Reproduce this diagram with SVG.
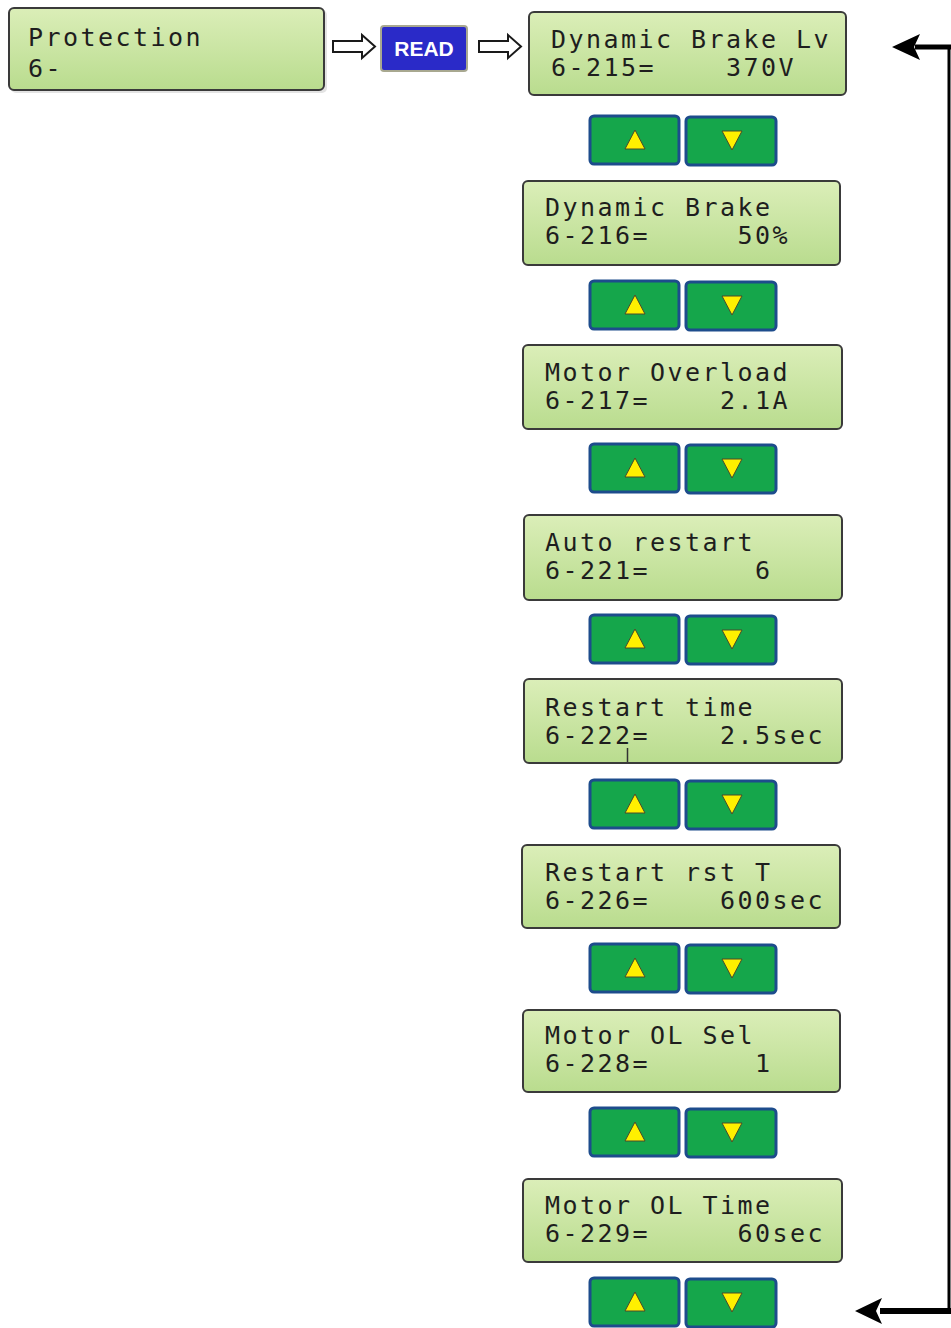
<svg xmlns="http://www.w3.org/2000/svg" xmlns:xlink="http://www.w3.org/1999/xlink" width="951" height="1328" viewBox="0 0 951 1328">
<style>
.lcd{fill:url(#lcdGrad);stroke:#3a3a3a;stroke-width:2}
.lcdshadow{fill:#c8c8c8;opacity:0.5}
.t{font-family:"DejaVu Sans Mono","Liberation Mono",monospace;font-size:25px;letter-spacing:2.45px;fill:#1e1e1e}
.btn{fill:#15a64b;stroke:#1d4c8c;stroke-width:3}
.tri{fill:#fff000;stroke:#4a4a2a;stroke-width:1}
.hollow{fill:#ffffff;stroke:#1a1a1a;stroke-width:2;stroke-linejoin:miter}
.conn{stroke:#000;fill:none}
</style>
<defs>
<linearGradient id="lcdGrad" x1="0" y1="0" x2="0" y2="1">
<stop offset="0" stop-color="#dbeeb8"/>
<stop offset="1" stop-color="#b9dc8e"/>
</linearGradient>
<g id="btnpair">
<rect class="btn" x="590" y="0" width="89" height="48" rx="4"/>
<polygon class="tri" points="635,14 625,33 645,33"/>
<rect class="btn" x="686" y="1" width="90" height="48" rx="4"/>
<polygon class="tri" points="722,15 742,15 732,34"/>
</g>
</defs>
<rect width="951" height="1328" fill="#ffffff"/>

<g id="protection">
<rect class="lcdshadow" x="11" y="10" width="316" height="83" rx="5"/>
<rect class="lcd" x="9" y="8" width="315" height="82" rx="5"/>
<text class="t" x="28" y="46">Protection</text>
<text class="t" x="28" y="77">6-</text>
</g>

<g id="read">
<rect x="381" y="26" width="86" height="45" rx="3" fill="#2a2ac8" stroke="#a8a890" stroke-width="2"/>
<text x="424" y="56" text-anchor="middle" font-family="Liberation Sans, Arial, sans-serif" font-weight="bold" font-size="21" fill="#ffffff">READ</text>
</g>

<g id="p215">
<rect class="lcd" x="529" y="12" width="317" height="83" rx="5"/>
<text class="t" x="551" y="48">Dynamic Brake Lv</text>
<text class="t" y="76"><tspan x="551">6-215=</tspan><tspan x="726">370V</tspan></text>
</g>
<g id="btn1"><use xlink:href="#btnpair" y="116"/></g>

<g id="p216">
<rect class="lcd" x="523" y="181" width="317" height="84" rx="5"/>
<text class="t" x="545" y="216">Dynamic Brake</text>
<text class="t" y="244"><tspan x="545">6-216=</tspan><tspan x="737.5">50%</tspan></text>
</g>
<g id="btn2"><use xlink:href="#btnpair" y="281"/></g>

<g id="p217">
<rect class="lcd" x="523" y="345" width="319" height="84" rx="5"/>
<text class="t" x="545" y="381">Motor Overload</text>
<text class="t" y="409"><tspan x="545">6-217=</tspan><tspan x="720">2.1A</tspan></text>
</g>
<g id="btn3"><use xlink:href="#btnpair" y="444"/></g>

<g id="p221">
<rect class="lcd" x="524" y="515" width="318" height="85" rx="5"/>
<text class="t" x="545" y="551">Auto restart</text>
<text class="t" y="579"><tspan x="545">6-221=</tspan><tspan x="755">6</tspan></text>
</g>
<g id="btn4"><use xlink:href="#btnpair" y="615"/></g>

<g id="p222">
<rect class="lcd" x="524" y="679" width="318" height="84" rx="5"/>
<text class="t" x="545" y="716">Restart time</text>
<text class="t" y="744"><tspan x="545">6-222=</tspan><tspan x="720">2.5sec</tspan></text>
<line x1="627.5" y1="748" x2="627.5" y2="762" stroke="#333" stroke-width="1.5"/>
</g>
<g id="btn5"><use xlink:href="#btnpair" y="780"/></g>

<g id="p226">
<rect class="lcd" x="522" y="845" width="318" height="83" rx="5"/>
<text class="t" x="545" y="881">Restart rst T</text>
<text class="t" y="909"><tspan x="545">6-226=</tspan><tspan x="720">600sec</tspan></text>
</g>
<g id="btn6"><use xlink:href="#btnpair" y="944"/></g>

<g id="p228">
<rect class="lcd" x="523" y="1010" width="317" height="82" rx="5"/>
<text class="t" x="545" y="1044">Motor OL Sel</text>
<text class="t" y="1072"><tspan x="545">6-228=</tspan><tspan x="755">1</tspan></text>
</g>
<g id="btn7"><use xlink:href="#btnpair" y="1108"/></g>

<g id="p229">
<rect class="lcd" x="523" y="1179" width="319" height="83" rx="5"/>
<text class="t" x="545" y="1214">Motor OL Time</text>
<text class="t" y="1242"><tspan x="545">6-229=</tspan><tspan x="737.5">60sec</tspan></text>
</g>
<g id="btn8"><use xlink:href="#btnpair" y="1278"/></g>

<g id="connectors">
<polygon class="hollow" points="333,41 362,41 362,35 375,46.5 362,58 362,52 333,52"/>
<polygon class="hollow" points="479,41 508,41 508,35 521,46.5 508,58 508,52 479,52"/>
<polyline class="conn" points="951,1311 949,1311 949,47 915,47" stroke-width="3"/>
<line class="conn" x1="880" y1="1311" x2="951" y2="1311" stroke-width="6"/>
<line class="conn" x1="915" y1="47" x2="951" y2="47" stroke-width="5"/>
<polygon points="892,47 920,34 914,47 920,60" fill="#000"/>
<polygon points="855,1311 882,1298 876,1311 882,1324" fill="#000"/>
</g>
</svg>
